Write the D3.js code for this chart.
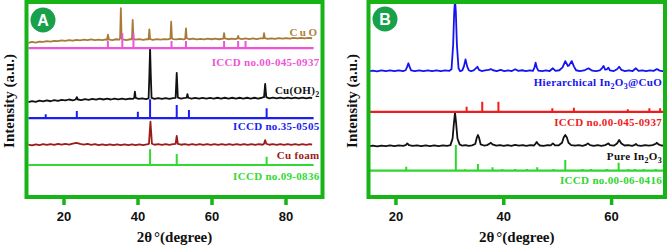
<!DOCTYPE html>
<html>
<head>
<meta charset="utf-8">
<script src="https://d3js.org/d3.v7.min.js"></script>
<style>
  body { margin: 0; background: #fff; }
  svg { display: block; }
  .lbl { font-family: "Liberation Serif", "Times New Roman", serif; font-weight: bold; font-size: 11px; }
  .tick text { font-family: "Liberation Sans", Arial, sans-serif; font-weight: bold; font-size: 13px; fill: #111; }
  .title { font-family: "Liberation Serif", "Times New Roman", serif; font-weight: bold; font-size: 15px; fill: #111; }
</style>
</head>
<body>
<svg width="669" height="252"></svg>
<script>
// ---- panel A data: 2theta (deg) vs intensity (a.u.) ----
const cuO = [
  [10.5,79.0],[11.5,79.5],[12.5,79.2],[13.5,79.7],[14.5,79.5],[15.5,79.9],[16.5,79.7],[17.5,80.1],[18.5,79.9],[19.5,80.3],
  [20.5,80.1],[21.5,80.5],[22.5,80.2],[23.5,80.6],[24.5,80.3],[25.5,80.7],[26.5,80.4],[27.5,80.8],[28.5,80.4],[29.5,80.7],
  [30.5,80.4],[31.5,80.8],[31.8,80.6],[32.0,83.2],[32.3,80.7],[33.2,80.5],[34.2,80.9],[35.1,80.7],[35.3,81.5],[35.5,96.8],
  [35.7,81.4],[36.0,80.8],[37.0,80.5],[38.0,80.9],[38.5,80.8],[38.7,90.8],[38.9,81.1],[39.5,80.7],[40.5,81.0],[41.5,80.6],
  [42.5,80.9],[43.0,80.8],[43.2,86.0],[43.4,81.0],[44.2,80.6],[45.2,81.0],[46.2,80.7],[47.2,81.0],[48.2,80.8],[48.9,81.2],
  [49.1,89.9],[49.3,81.5],[49.6,81.0],[50.5,80.8],[51.5,81.1],[52.5,80.8],[52.9,81.2],[53.1,86.5],[53.3,81.4],[54.0,80.9],
  [55.0,81.2],[56.0,80.8],[57.0,81.1],[58.0,80.8],[59.0,81.2],[60.0,80.9],[61.0,81.2],[62.0,80.9],[63.2,81.2],[63.4,84.0],
  [63.6,81.3],[64.5,80.9],[65.5,81.2],[66.5,81.0],[67.0,81.3],[67.2,82.6],[67.4,81.3],[68.2,81.0],[69.2,81.3],[70.2,81.0],
  [71.2,81.3],[72.2,81.0],[73.2,81.3],[74.0,81.4],[74.2,84.0],[74.4,81.5],[75.2,81.1],[76.2,81.4],[77.2,81.1],[78.2,81.5],
  [79.2,81.2],[80.2,81.5],[81.2,81.2],[82.2,81.6],[83.2,81.3],[84.2,81.6],[85.2,81.3],[86.2,81.6],[87.2,81.4]
];
const cuOH2 = [
  [10.5,48.6],[11.5,49.2],[12.5,48.8],[13.5,49.4],[14.5,49.0],[15.5,49.5],[16.5,49.1],[17.5,49.7],[18.5,49.3],[19.5,49.8],
  [20.5,49.5],[21.5,50.0],[22.5,49.6],[23.3,50.0],[23.6,51.2],[23.9,50.0],[24.8,49.7],[25.8,50.2],[26.8,49.8],[27.8,50.3],
  [28.8,49.9],[29.8,50.4],[30.8,50.0],[31.8,50.4],[32.8,50.0],[33.8,50.5],[34.8,50.1],[35.8,50.5],[36.8,50.1],[37.8,50.5],
  [38.8,50.3],[39.1,50.8],[39.3,54.0],[39.5,50.8],[40.3,50.3],[41.3,50.6],[42.3,50.2],[43.0,50.6],[43.2,62.0],[43.4,76.3],
  [43.6,62.0],[43.8,50.8],[44.6,50.3],[45.6,50.7],[46.6,50.3],[47.6,50.7],[48.6,50.3],[49.6,50.7],[50.3,50.8],[50.6,63.7],
  [50.9,51.0],[51.8,50.5],[52.8,50.8],[53.3,51.0],[53.5,52.8],[53.7,50.9],[54.6,50.4],[55.6,50.8],[56.6,50.4],[57.6,50.8],
  [58.6,50.4],[59.6,50.8],[60.6,50.5],[61.6,50.9],[62.6,50.5],[63.6,50.9],[64.6,50.5],[65.6,50.9],[66.6,50.5],[67.6,50.9],
  [68.6,50.5],[69.6,50.9],[70.6,50.5],[71.6,50.9],[72.6,50.5],[73.6,50.9],[74.2,51.2],[74.5,58.0],[74.8,51.2],[75.6,50.6],
  [76.6,51.0],[77.6,50.6],[78.6,51.0],[79.6,50.6],[80.6,51.0],[81.6,50.6],[82.6,51.0],[83.6,50.6],[84.6,51.0],[85.6,50.6],
  [86.6,51.0],[87.2,50.7]
];
const cuFoam = [
  [10.5,26.9],[11.5,26.5],[12.5,27.0],[13.5,26.6],[14.5,27.1],[15.5,26.7],[16.5,27.1],[17.5,26.7],[18.5,27.2],[19.5,26.8],
  [20.5,27.2],[21.5,26.9],[22.5,27.4],[23.5,27.8],[24.5,27.2],[25.5,26.9],[26.5,27.2],[27.5,26.7],[28.5,27.1],[29.5,26.6],
  [30.5,27.0],[31.5,26.6],[32.5,27.0],[33.5,26.6],[34.5,27.0],[35.5,26.6],[36.5,27.0],[37.5,26.6],[38.5,27.0],[39.5,26.6],
  [40.5,27.0],[41.5,26.6],[42.5,27.0],[43.1,27.3],[43.3,33.0],[43.5,38.6],[43.7,33.0],[43.9,27.3],[44.6,26.8],[45.6,27.1],
  [46.6,26.7],[47.6,27.1],[48.6,26.7],[49.6,27.1],[50.3,27.2],[50.6,31.3],[50.9,27.2],[51.8,26.8],[52.8,27.1],[53.8,26.7],
  [54.8,27.1],[55.8,26.7],[56.8,27.1],[57.8,26.7],[58.8,27.1],[59.8,26.7],[60.8,27.1],[61.8,26.7],[62.8,27.1],[63.8,26.7],
  [64.8,27.1],[65.8,26.7],[66.8,27.1],[67.8,26.7],[68.8,27.1],[69.8,26.7],[70.8,27.1],[71.8,26.7],[72.8,27.1],[73.8,26.8],
  [74.2,27.3],[74.5,29.2],[74.8,27.3],[75.6,26.8],[76.6,27.1],[77.6,26.7],[78.6,27.1],[79.6,26.7],[80.6,27.1],[81.6,26.7],
  [82.6,27.1],[83.6,26.7],[84.6,27.1],[85.6,26.7],[86.6,27.1],[87.2,26.9]
];
// reference patterns: [2theta, stick top], baseline level
const refCuO = [[32.0,80],[35.9,84],[38.9,84],[49.2,80],[53.1,80],[63.4,80],[67.2,80],[69.2,80]];
const refCuOBase = 76.3;
const refCuOH2 = [[15.2,42.4],[23.6,44.1],[40.1,43.7],[43.4,50.1],[50.6,47.2],[53.9,44.6],[74.9,45.5]];
const refCuOH2Base = 40.4;
const refCu = [[43.4,24.5],[50.6,22.1],[74.9,20.7]];
const refCuBase = 16.4;
const ticksA = [20, 40, 60, 80];

// ---- panel B data ----
const hier = [
  [15.0,64.4],[15.8,64.8],[16.6,64.4],[17.4,64.9],[18.2,64.5],[19.0,64.9],[19.8,64.5],[20.6,64.9],[21.4,64.6],[21.9,65.0],
  [22.2,67.0],[22.4,68.6],[22.6,67.0],[22.9,64.9],[23.6,64.5],[24.4,64.9],[25.2,64.5],[26.0,64.9],[26.8,64.5],[27.6,64.9],
  [28.4,64.5],[29.2,64.9],[30.0,64.7],[30.4,65.5],[30.7,78.0],[30.9,95.0],[31.05,101.0],[31.2,95.0],[31.4,78.0],[31.7,66.0],
  [32.0,64.5],[32.4,64.9],[32.7,67.0],[33.0,70.6],[33.3,67.0],[33.6,65.0],[34.0,64.5],[34.5,64.9],[35.0,66.2],[35.2,66.8],
  [35.5,65.2],[36.0,64.6],[36.6,64.9],[37.3,65.2],[37.7,65.6],[38.1,65.0],[38.8,64.6],[39.5,65.2],[40.2,64.6],[40.9,64.9],
  [41.6,64.6],[42.2,65.5],[42.8,64.7],[43.5,65.0],[44.2,64.6],[44.9,64.9],[45.5,64.7],[45.8,66.5],[46.0,68.9],[46.2,66.5],
  [46.5,64.8],[47.2,64.5],[47.9,64.9],[48.6,64.6],[49.2,66.0],[49.7,64.7],[50.4,65.0],[51.0,66.5],[51.5,69.7],[52.0,67.2],
  [52.2,67.5],[52.7,69.7],[53.1,67.0],[53.5,65.0],[54.2,64.6],[55.0,64.9],[55.8,66.0],[56.5,64.8],[57.2,64.6],[57.9,64.9],
  [58.3,66.0],[58.6,67.2],[58.9,65.3],[59.2,65.4],[59.5,66.3],[59.8,64.9],[60.5,64.6],[61.1,65.5],[61.5,66.8],[61.9,65.2],
  [62.6,64.6],[63.3,64.9],[64.0,64.6],[64.6,66.0],[65.1,64.7],[65.8,64.9],[66.5,64.6],[67.2,64.9],[67.9,64.7],[68.5,65.6],
  [69.0,64.8],[69.5,64.6],[70.0,64.8]
];
const pureIn2O3 = [
  [15.0,26.0],[15.8,26.4],[16.6,26.0],[17.4,26.4],[18.2,26.1],[19.0,26.5],[19.8,26.1],[20.6,26.5],[21.4,26.2],[21.9,26.6],
  [22.2,27.5],[22.5,26.6],[23.2,26.2],[24.0,26.5],[24.8,26.1],[25.6,26.5],[26.4,26.1],[27.2,26.5],[28.0,26.1],[28.8,26.5],
  [29.6,26.2],[30.2,26.6],[30.6,30.0],[30.85,38.0],[31.05,43.3],[31.25,38.0],[31.5,30.0],[31.9,27.0],[32.4,26.3],[33.0,26.6],
  [33.6,26.2],[34.2,26.5],[34.8,27.2],[35.1,30.5],[35.3,31.8],[35.5,30.5],[35.8,27.0],[36.4,26.4],[37.0,26.6],[37.5,27.4],
  [37.7,27.8],[38.0,27.0],[38.7,26.3],[39.4,26.6],[40.1,26.2],[40.8,26.6],[41.5,26.2],[42.2,26.7],[42.9,26.3],[43.6,26.6],
  [44.3,26.2],[45.0,26.6],[45.7,26.4],[46.0,27.4],[46.2,28.2],[46.4,27.4],[46.8,26.4],[47.5,26.2],[48.2,26.6],[48.8,26.5],
  [49.2,27.5],[49.6,26.5],[50.3,26.5],[50.9,27.8],[51.2,30.5],[51.5,31.8],[51.8,30.5],[52.1,27.8],[52.6,26.6],[53.3,26.3],
  [54.0,26.6],[54.7,26.2],[55.3,26.7],[55.7,27.5],[56.1,26.6],[56.8,26.2],[57.5,26.6],[58.2,26.2],[58.9,26.6],[59.3,27.2],
  [59.5,27.5],[59.8,26.6],[60.5,26.3],[61.1,27.4],[61.5,29.2],[61.9,27.4],[62.5,26.4],[63.2,26.6],[63.9,26.2],[64.4,26.7],
  [64.6,27.2],[64.9,26.5],[65.6,26.2],[66.3,26.6],[67.0,26.3],[67.7,26.6],[68.3,27.3],[68.5,27.8],[68.8,27.0],[69.3,26.4],
  [70.0,26.3]
];
const refCuOB = [[33.2,46.3],[36.1,48.9],[39.1,48.9],[49.1,45.5],[53.1,45.8],[63.1,45.0],[67.1,45.5],[69.1,45.5]];
const refCuOBBase = 43.7;
const refIn2O3 = [[22.0,15.5],[31.2,26.7],[32.9,14.2],[35.3,16.9],[38.0,15.2],[39.8,14.4],[42.2,14.4],[44.4,14.3],
  [46.3,15.2],[49.3,14.4],[51.5,19.0],[54.7,14.3],[56.3,14.3],[59.2,14.4],[61.4,17.6],[63.2,14.3],[64.4,14.3],
  [66.0,14.3],[68.3,14.3]];
const refIn2O3Base = 13.5;
const ticksB = [20, 40, 60];

const svg = d3.select("svg");
const frameGreen = "#17b317";
const yTop = 2, yBottom = 197;

function panel(opt) {
  const x = d3.scaleLinear().domain(opt.domain).range(opt.range);
  const y = d3.scaleLinear().domain([0, 100]).range([yBottom, yTop]);
  const g = svg.append("g");

  const clipId = "clip" + opt.letter;
  svg.append("clipPath").attr("id", clipId)
    .append("rect")
    .attr("x", opt.range[0]).attr("y", yTop)
    .attr("width", opt.range[1] - opt.range[0]).attr("height", yBottom - yTop);

  const plot = g.append("g").attr("clip-path", `url(#${clipId})`);
  const line = d3.line().x(d => x(d[0])).y(d => y(d[1]));

  opt.traces.forEach(t => {
    plot.append("path").datum(t.data)
      .attr("fill", "none").attr("stroke", t.color)
      .attr("stroke-width", 1.8).attr("stroke-linejoin", "round")
      .attr("d", line);
  });

  opt.refs.forEach(r => {
    plot.append("line")
      .attr("x1", x(r.span[0])).attr("x2", x(r.span[1]))
      .attr("y1", y(r.base)).attr("y2", y(r.base))
      .attr("stroke", r.color).attr("stroke-width", 2.2);
    plot.selectAll(null).data(r.data).enter().append("line")
      .attr("x1", d => x(d[0])).attr("x2", d => x(d[0]))
      .attr("y1", y(r.base)).attr("y2", d => y(d[1]))
      .attr("stroke", r.color).attr("stroke-width", 2);
  });

  // series labels; {t, dy, sub} parts shift the baseline
  opt.labels.forEach(l => {
    const t = g.append("text").attr("class", "lbl")
      .attr("x", opt.range[1] - 3).attr("y", l.y)
      .attr("text-anchor", "end").attr("fill", l.color)
      .attr("letter-spacing", l.ls || 0.3);
    l.parts.forEach(p => {
      if (typeof p === "string") { t.append("tspan").text(p); return; }
      const s = t.append("tspan").attr("dy", p.dy).text(p.t);
      if (p.sub) s.attr("font-size", 8);
    });
  });

  // frame
  g.append("rect")
    .attr("x", opt.range[0]).attr("y", yTop)
    .attr("width", opt.range[1] - opt.range[0]).attr("height", yBottom - yTop)
    .attr("fill", "none").attr("stroke", frameGreen).attr("stroke-width", 4);

  // x axis
  const ax = g.append("g").attr("transform", `translate(0,${yBottom + 2})`)
    .call(d3.axisBottom(x).tickValues(opt.ticks).tickSize(6).tickPadding(7).tickFormat(d3.format("d")));
  ax.select(".domain").remove();
  ax.selectAll(".tick line").attr("stroke", frameGreen).attr("stroke-width", 3.5);

  const cx = (opt.range[0] + opt.range[1]) / 2;
  const tt = g.append("text").attr("class", "title")
    .attr("x", cx).attr("y", 242).attr("text-anchor", "middle");
  tt.append("tspan").text("2θ");
  tt.append("tspan").attr("dx", 2).text("°(degree)");

  g.append("text").attr("class", "title")
    .attr("transform", `translate(${opt.ylabX},101) rotate(-90)`)
    .attr("text-anchor", "middle").attr("dy", "0.35em")
    .text("Intensity (a.u.)");

  // panel badge
  g.append("circle").attr("cx", opt.badge[0]).attr("cy", opt.badge[1]).attr("r", 12.5)
    .attr("fill", "#19a04b");
  g.append("text").attr("x", opt.badge[0]).attr("y", opt.badge[1]).attr("dy", "0.36em")
    .attr("text-anchor", "middle").attr("fill", "#fff")
    .attr("font-family", "Liberation Sans, Arial, sans-serif").attr("font-weight", "bold")
    .attr("font-size", 16).text(opt.letter);
}

const sub = t => ({ t, dy: 3, sub: true });
const up = t => ({ t, dy: -3 });
const upSub = t => ({ t, dy: 0, sub: true });

panel({
  letter: "A", domain: [10, 90], range: [26.5, 322.5], ticks: ticksA,
  ylabX: 9, badge: [43, 20],
  traces: [
    { data: cuO, color: "#a87a38" },
    { data: cuOH2, color: "#111" },
    { data: cuFoam, color: "#9c1a1a" }
  ],
  refs: [
    { data: refCuO, base: refCuOBase, span: [10.5, 87.6], color: "#ee55d6" },
    { data: refCuOH2, base: refCuOH2Base, span: [10.5, 87.6], color: "#1a1ef0" },
    { data: refCu, base: refCuBase, span: [10.5, 87.6], color: "#33d933" }
  ],
  labels: [
    { y: 36, color: "#b0803c", parts: ["CuO"], ls: 2.5 },
    { y: 66, color: "#ee55d6", parts: ["ICCD no.00-045-0937"] },
    { y: 94, color: "#111", parts: ["Cu(OH)", sub("2")] },
    { y: 130, color: "#1a1ef0", parts: ["ICCD no.35-0505"] },
    { y: 159, color: "#9c1a1a", parts: ["Cu foam"] },
    { y: 180, color: "#33d933", parts: ["ICCD no.09-0836"] }
  ]
});

panel({
  letter: "B", domain: [15, 70], range: [368.5, 665], ticks: ticksB,
  ylabX: 351.5, badge: [385, 19],
  traces: [
    { data: hier, color: "#1414f0" },
    { data: pureIn2O3, color: "#111" }
  ],
  refs: [
    { data: refCuOB, base: refCuOBBase, span: [15, 70], color: "#ee1c1c" },
    { data: refIn2O3, base: refIn2O3Base, span: [15, 70], color: "#2fd62f" }
  ],
  labels: [
    { y: 86, color: "#1414f0", parts: ["Hierarchical In", sub("2"), up("O"), sub("3"), up("@CuO")] },
    { y: 126, color: "#ee1c1c", parts: ["ICCD no.00-045-0937"] },
    { y: 160, color: "#111", parts: ["Pure In", sub("2"), up("O"), sub("3")] },
    { y: 184, color: "#2fd62f", parts: ["ICCD no.00-06-0416"] }
  ]
});
</script>
</body>
</html>
